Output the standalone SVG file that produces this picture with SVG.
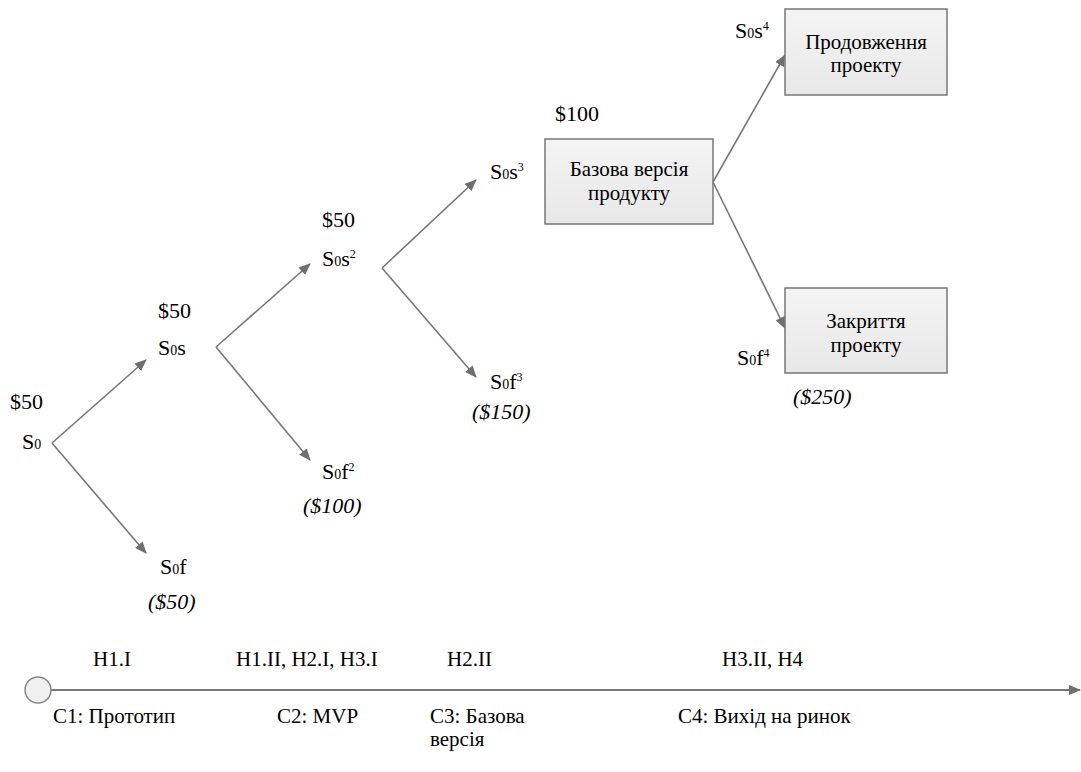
<svg xmlns="http://www.w3.org/2000/svg" width="1081" height="772" viewBox="0 0 1081 772">
  <rect width="1081" height="772" fill="#fff"/>

  <!-- decision tree connectors -->
  <g id="connectors" stroke="#777" stroke-width="1.6" fill="none" marker-end="url(#arr)">
    <line x1="52" y1="443" x2="146" y2="360"/>
    <line x1="52" y1="443" x2="146" y2="553"/>
    <line x1="216" y1="347" x2="310" y2="264"/>
    <line x1="216" y1="347" x2="310" y2="460"/>
    <line x1="382" y1="268" x2="476" y2="180"/>
    <line x1="382" y1="268" x2="476" y2="377"/>
    <line x1="713" y1="182" x2="785" y2="55"/>
    <line x1="713" y1="182" x2="785" y2="328"/>
  </g>

  <g id="node-s0">
    <text x="10" y="409" font-family="Liberation Serif" font-size="22">$50</text>
    <text x="22" y="449" font-family="Liberation Serif" font-size="22">S<tspan font-size="14">0</tspan></text>
  </g>
  <g id="node-s0f">
    <text x="160" y="574" font-family="Liberation Serif" font-size="22">S<tspan font-size="14">0</tspan>f</text>
    <text x="148" y="609" font-family="Liberation Serif" font-size="22" font-style="italic">($50)</text>
  </g>
  <g id="node-s0s">
    <text x="158" y="318" font-family="Liberation Serif" font-size="22">$50</text>
    <text x="158" y="355" font-family="Liberation Serif" font-size="22">S<tspan font-size="14">0</tspan>s</text>
  </g>
  <g id="node-s0f2">
    <text x="322" y="479" font-family="Liberation Serif" font-size="22">S<tspan font-size="14">0</tspan>f<tspan font-size="12" dy="-8">2</tspan></text>
    <text x="303" y="513" font-family="Liberation Serif" font-size="22" font-style="italic">($100)</text>
  </g>
  <g id="node-s0s2">
    <text x="322" y="227" font-family="Liberation Serif" font-size="22">$50</text>
    <text x="322" y="266" font-family="Liberation Serif" font-size="22">S<tspan font-size="14">0</tspan>s<tspan font-size="12" dy="-8">2</tspan></text>
  </g>
  <g id="node-s0s3">
    <text x="490" y="179" font-family="Liberation Serif" font-size="22">S<tspan font-size="14">0</tspan>s<tspan font-size="12" dy="-8">3</tspan></text>
  </g>
  <g id="node-s0f3">
    <text x="490" y="389" font-family="Liberation Serif" font-size="22">S<tspan font-size="14">0</tspan>f<tspan font-size="12" dy="-8">3</tspan></text>
    <text x="472" y="419" font-family="Liberation Serif" font-size="22" font-style="italic">($150)</text>
  </g>
  <g id="node-base">
    <text x="555" y="121" font-family="Liberation Serif" font-size="22">$100</text>
    <rect x="545" y="139" width="168" height="85" fill="url(#boxfill)" stroke="#777" stroke-width="1.5"/>
    <text x="629" y="176" font-family="Liberation Serif" font-size="21" text-anchor="middle">Базова версія</text>
    <text x="629" y="200" font-family="Liberation Serif" font-size="21" text-anchor="middle">продукту</text>
  </g>
  <g id="node-continue">
    <text x="735" y="38" font-family="Liberation Serif" font-size="22">S<tspan font-size="14">0</tspan>s<tspan font-size="12" dy="-8">4</tspan></text>
    <rect x="785" y="9" width="162" height="86" fill="url(#boxfill)" stroke="#777" stroke-width="1.5"/>
    <text x="866" y="49" font-family="Liberation Serif" font-size="21" text-anchor="middle">Продовження</text>
    <text x="866" y="72" font-family="Liberation Serif" font-size="21" text-anchor="middle">проекту</text>
  </g>
  <g id="node-close">
    <rect x="785" y="288" width="162" height="85" fill="url(#boxfill)" stroke="#777" stroke-width="1.5"/>
    <text x="866" y="328" font-family="Liberation Serif" font-size="21" text-anchor="middle">Закриття</text>
    <text x="866" y="352" font-family="Liberation Serif" font-size="21" text-anchor="middle">проекту</text>
    <text x="737" y="365" font-family="Liberation Serif" font-size="22">S<tspan font-size="14">0</tspan>f<tspan font-size="12" dy="-8">4</tspan></text>
    <text x="793" y="404" font-family="Liberation Serif" font-size="22" font-style="italic">($250)</text>
  </g>

  <!-- timeline -->
  <g id="timeline">
    <line x1="51" y1="690" x2="1080" y2="690" stroke="#777" stroke-width="1.8" marker-end="url(#arr)"/>
    <circle cx="38" cy="690" r="13" fill="#f0f0f0" stroke="#888" stroke-width="1.5"/>
    <text x="93" y="666" font-family="Liberation Serif" font-size="21">H1.I</text>
    <text x="236" y="666" font-family="Liberation Serif" font-size="21">H1.II, H2.I, H3.I</text>
    <text x="447" y="666" font-family="Liberation Serif" font-size="21">H2.II</text>
    <text x="722" y="666" font-family="Liberation Serif" font-size="21">H3.II, H4</text>
    <text x="53" y="723" font-family="Liberation Serif" font-size="21">C1: Прототип</text>
    <text x="277" y="723" font-family="Liberation Serif" font-size="21">C2: MVP</text>
    <text x="430" y="723" font-family="Liberation Serif" font-size="21">C3: Базова</text>
    <text x="430" y="746" font-family="Liberation Serif" font-size="21">версія</text>
    <text x="678" y="723" font-family="Liberation Serif" font-size="21">C4: Вихід на ринок</text>
  </g>

  <defs>
    <marker id="arr" viewBox="0 0 12 10" refX="11" refY="5" markerWidth="12" markerHeight="10" markerUnits="userSpaceOnUse" orient="auto">
      <path d="M0,0 L12,5 L0,10 Z" fill="#6f6f6f"/>
    </marker>
    <linearGradient id="boxfill" x1="0" y1="0" x2="0" y2="1">
      <stop offset="0" stop-color="#f4f4f4"/>
      <stop offset="1" stop-color="#e8e8e8"/>
    </linearGradient>
  </defs>
</svg>
